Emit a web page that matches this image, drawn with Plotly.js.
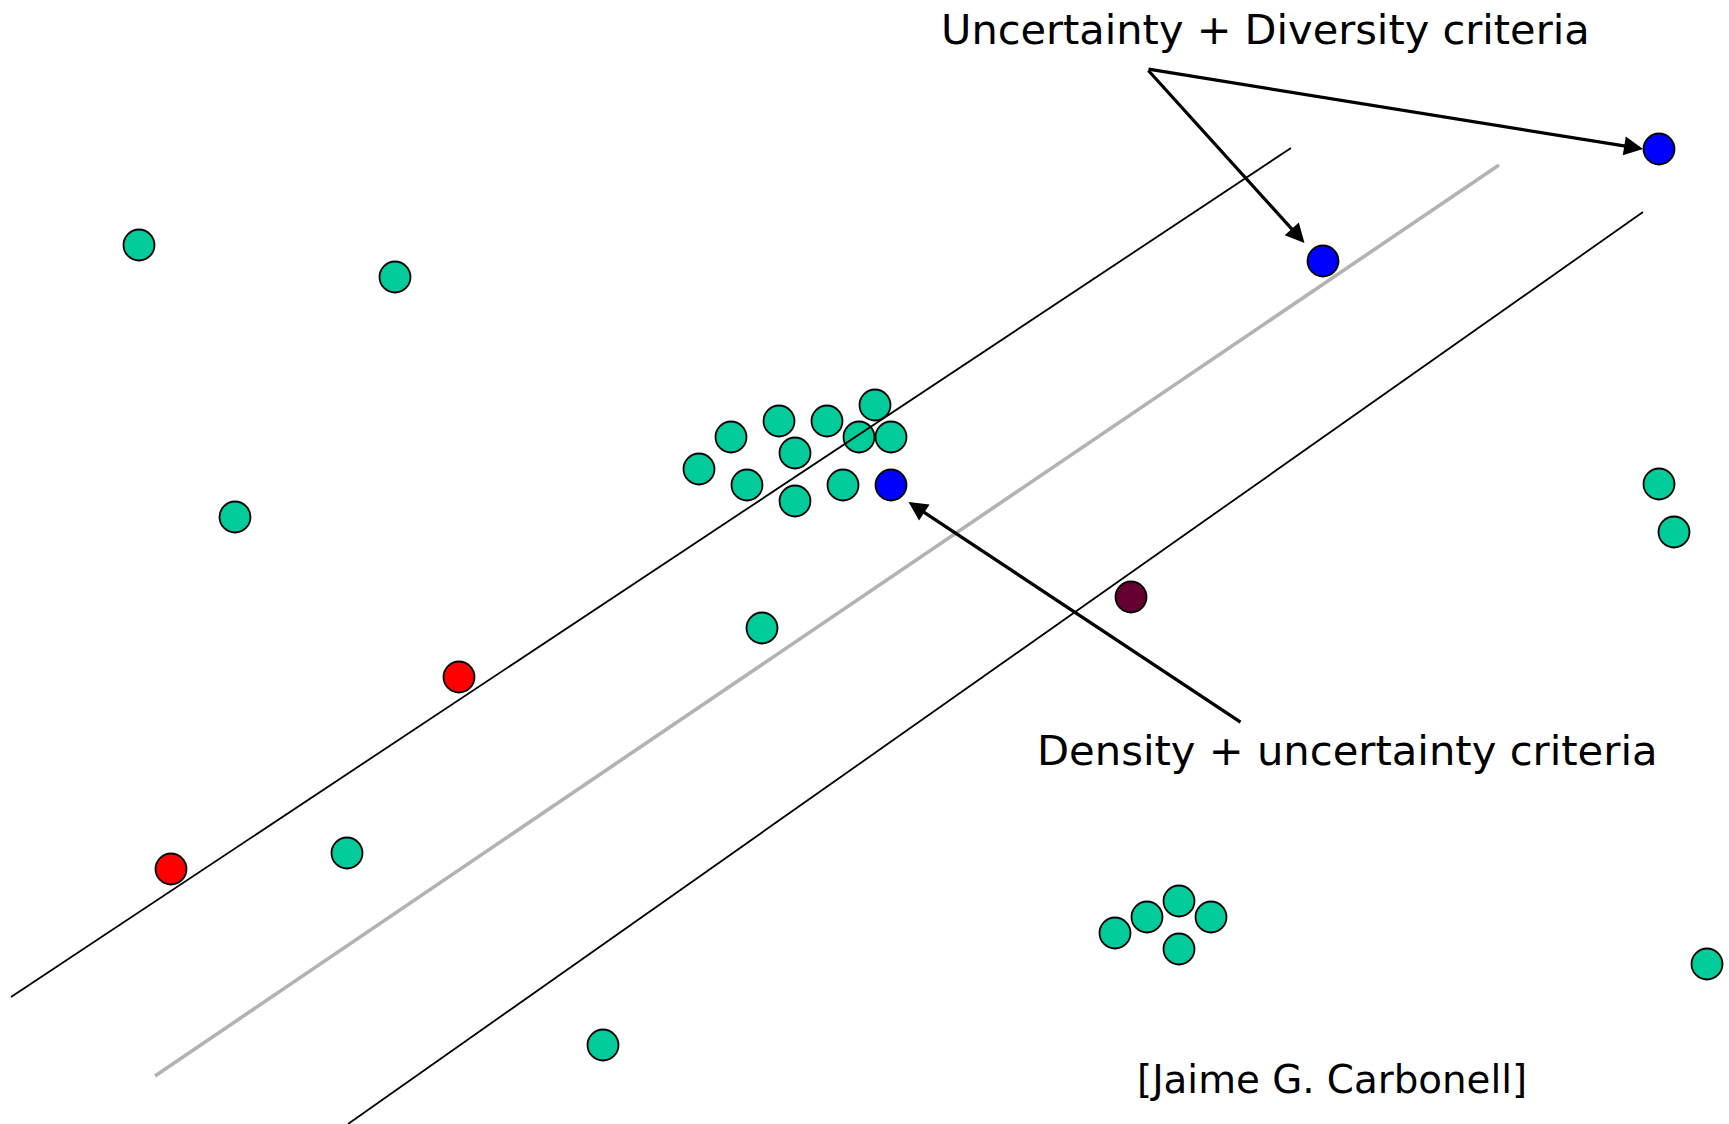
<!DOCTYPE html>
<html>
<head>
<meta charset="utf-8">
<script src="https://cdn.plot.ly/plotly-3.0.1.min.js"></script>
<style>
  html, body { margin: 0; padding: 0; background: #ffffff; overflow: hidden; }
  #chart { width: 1729px; height: 1124px; }
</style>
</head>
<body>
<div id="chart"></div>
<script>
// ---- Data (abstract feature-space units) ----
// Unlabeled points (teal)
const unlabeledX = [13.9, 39.5, 23.5, 34.7, 60.3, 76.2,
                    69.9, 73.1, 77.9, 82.7, 87.5, 79.5, 85.9, 89.1, 74.7, 79.5, 84.3,
                    165.9, 167.4, 111.5, 114.7, 117.9, 121.1, 117.9, 170.7];
const unlabeledY = [87.9, 84.7, 60.7, 27.1, 7.9, 49.6,
                    65.5, 68.7, 70.3, 70.3, 71.9, 67.1, 68.7, 68.7, 63.9, 62.3, 63.9,
                    64.0, 59.2, 19.1, 20.7, 22.3, 20.7, 17.5, 16.0];
// Labeled class A (red)
const classAX = [17.1, 45.9];
const classAY = [25.5, 44.7];
// Labeled class B (dark maroon)
const classBX = [113.1];
const classBY = [52.7];
// Selected query points (blue)
const selectedX = [89.1, 132.3, 165.9];
const selectedY = [63.9, 86.3, 97.5];
// Decision boundary (grey) and margins (black)
const marginUpperX = [1.1, 129.1];
const marginUpperY = [12.7, 97.6];
const boundaryX = [15.5, 149.9];
const boundaryY = [4.8, 95.9];
const marginLowerX = [34.8, 164.3];
const marginLowerY = [0.0, 91.2];
// Labels
const labelDiversity = "Uncertainty + Diversity criteria";
const labelDensity = "Density + uncertainty criteria";
const labelCredit = "[Jaime G. Carbonell]";
// Arrow endpoints: [tailX, tailY, tipX, tipY]
const arrowDiv1 = [114.7, 105.5, 164.3, 97.5];
const arrowDiv2 = [114.7, 105.5, 130.45, 88.1];
const arrowDens = [124.2, 40.1, 90.85, 62.2];

// ---- Styling ----
const TEAL = "#00cc99", RED = "#ff0000", BLUE = "#0000ff", MAROON = "#660033";
const FONT = "DejaVu Sans, Verdana, sans-serif";
const mk = (c) => ({ color: c, size: 31, line: { color: "#000000", width: 1.8 } });

const traces = [
  { x: unlabeledX, y: unlabeledY, mode: "markers", type: "scatter", marker: mk(TEAL), cliponaxis: false },
  { x: classAX, y: classAY, mode: "markers", type: "scatter", marker: mk(RED), cliponaxis: false },
  { x: classBX, y: classBY, mode: "markers", type: "scatter", marker: mk(MAROON), cliponaxis: false },
  { x: selectedX, y: selectedY, mode: "markers", type: "scatter", marker: mk(BLUE), cliponaxis: false },
  { x: boundaryX, y: boundaryY, mode: "lines", type: "scatter", line: { color: "#b3b3b3", width: 3.6 } },
  { x: marginUpperX, y: marginUpperY, mode: "lines", type: "scatter", line: { color: "#000000", width: 1.8 } },
  { x: marginLowerX, y: marginLowerY, mode: "lines", type: "scatter", line: { color: "#000000", width: 1.8 } }
];

const arrowAnn = (a) => ({
  x: a[2], y: a[3], ax: a[0], ay: a[1], xref: "x", yref: "y", axref: "x", ayref: "y",
  text: "", showarrow: true, arrowhead: 2, arrowsize: 1.15, arrowwidth: 3.3, arrowcolor: "#000000",
  standoff: 0, startstandoff: 0
});

const layout = {
  width: 1729, height: 1124,
  margin: { l: 0, r: 0, t: 0, b: 0, pad: 0 },
  paper_bgcolor: "#ffffff", plot_bgcolor: "#ffffff",
  showlegend: false, hovermode: false,
  xaxis: { range: [0, 172.9], visible: false, showgrid: false, zeroline: false, fixedrange: true },
  yaxis: { range: [0, 112.4], visible: false, showgrid: false, zeroline: false, fixedrange: true },
  annotations: [
    arrowAnn(arrowDiv1), arrowAnn(arrowDiv2), arrowAnn(arrowDens),
    { x: 93.9, y: 109.5, xref: "x", yref: "y", xanchor: "left", yanchor: "middle", showarrow: false,
      text: labelDiversity, font: { family: FONT, size: 41.5, color: "#000000" } },
    { x: 103.5, y: 37.4, xref: "x", yref: "y", xanchor: "left", yanchor: "middle", showarrow: false,
      text: labelDensity, font: { family: FONT, size: 41.7, color: "#000000" } },
    { x: 113.5, y: 4.5, xref: "x", yref: "y", xanchor: "left", yanchor: "middle", showarrow: false,
      text: labelCredit, font: { family: FONT, size: 38.8, color: "#000000" } }
  ]
};

Plotly.newPlot("chart", traces, layout, { displayModeBar: false, staticPlot: true });
</script>
</body>
</html>
